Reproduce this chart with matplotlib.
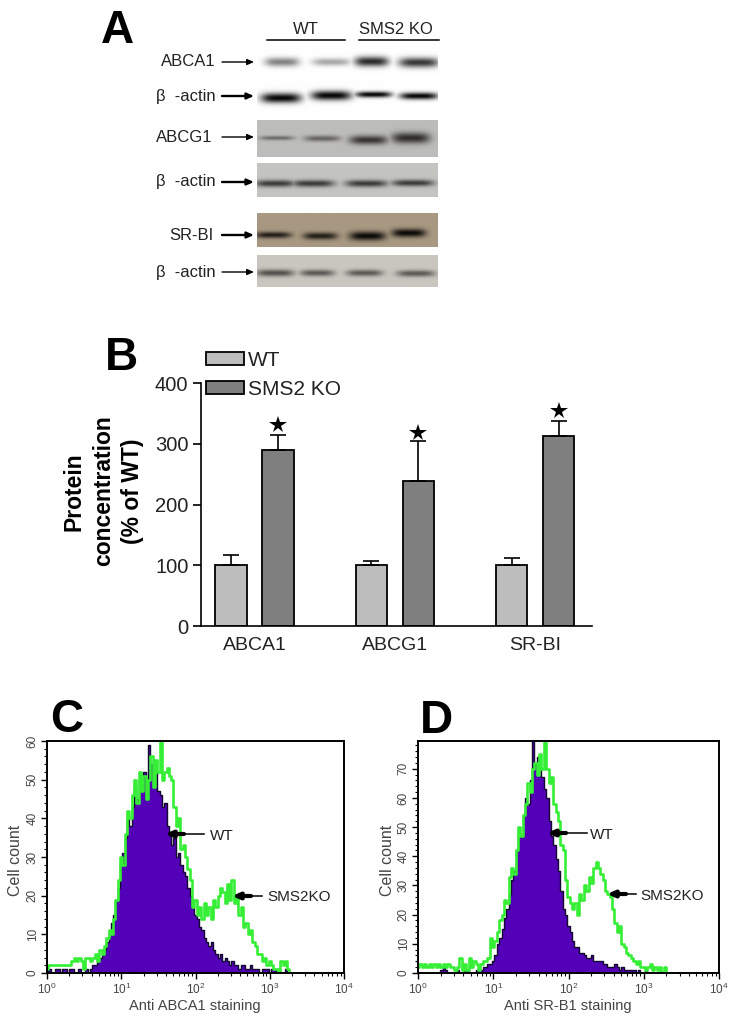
import numpy as np
import matplotlib
matplotlib.use('Agg')
import matplotlib.pyplot as plt
from matplotlib.patches import Patch
from matplotlib.ticker import MultipleLocator, LogLocator, NullFormatter

plt.rcParams['font.family'] = ['Liberation Sans', 'DejaVu Sans']
plt.rcParams['mathtext.default'] = 'regular'

W, H = 737, 1026

# Panel B values
targets = ['ABCA1', 'ABCG1', 'SR-BI']
wt_mean = [100, 100, 100]
wt_err = [17, 7, 12]
ko_mean = [290, 239, 313]
ko_err = [25, 66, 24]
star_y = [331, 317, 354]

# Panel A band densities, one per lane
abca1_density = [0.5, 0.35, 0.85, 0.8]
actin1_density = [1.0, 1.0, 1.0, 1.0]
abcg1_density = [0.5, 0.55, 0.85, 0.9]
actin2_density = [0.8, 0.8, 0.8, 0.8]
srbi_density = [0.85, 0.85, 1.0, 1.0]
actin3_density = [0.7, 0.65, 0.65, 0.65]

# Panel C histograms, 32 channels per decade
c_wt = [0, 1, 0, 0, 1, 1, 0, 1, 1, 0, 1, 1, 0, 0, 1, 0,
        0, 1, 0, 1, 2, 2, 3, 4, 5, 6, 8, 10, 13, 15, 19, 22,
        28, 31, 35, 40, 38, 43, 48, 45, 50, 47, 52, 46, 59, 54, 50, 52,
        47, 46, 43, 44, 38, 36, 33, 35, 30, 31, 28, 26, 25, 22, 20, 17,
        15, 14, 12, 11, 9, 8, 7, 8, 6, 5, 4, 5, 3, 4, 3, 2,
        3, 2, 2, 1, 2, 2, 1, 1, 2, 1, 1, 1, 0, 1, 1, 1,
        0, 1, 1, 0, 1, 0, 0, 1, 0, 0, 0, 0, 0, 0, 0, 0,
        0, 0, 0, 0, 0, 0, 0, 0, 0, 0, 0, 0, 0, 0, 0, 0]
c_ko = [1, 2, 2, 2, 2, 2, 2, 2, 2, 2, 2, 3, 4, 3, 4, 3,
        1, 4, 4, 3, 4, 5, 3, 6, 5, 7, 9, 11, 10, 14, 19, 24,
        30, 28, 36, 42, 40, 46, 50, 44, 52, 47, 51, 45, 50, 56, 48, 55,
        52, 60, 50, 52, 53, 51, 50, 43, 38, 40, 32, 33, 30, 27, 24, 17,
        19, 15, 17, 14, 18, 15, 17, 14, 19, 17, 20, 22, 21, 18, 23, 19,
        24, 18, 20, 15, 17, 12, 13, 10, 11, 8, 7, 5, 5, 3, 4, 2,
        3, 2, 1, 1, 0, 3, 2, 3, 1, 0, 0, 0, 0, 0, 0, 0,
        0, 0, 0, 0, 0, 0, 0, 0, 0, 0, 0, 0, 0, 0, 0, 0]

# Panel D histograms
d_wt = [0, 0, 0, 0, 0, 0, 0, 0, 0, 0, 1, 2, 1, 0, 0, 0,
        0, 1, 0, 0, 1, 1, 0, 0, 0, 1, 1, 1, 2, 2, 3, 3,
        4, 6, 10, 12, 15, 19, 22, 27, 32, 35, 42, 48, 47, 54, 60, 58,
        66, 80, 72, 74, 70, 67, 63, 60, 52, 47, 44, 39, 35, 28, 22, 20,
        16, 14, 11, 9, 9, 7, 7, 6, 5, 5, 6, 4, 4, 4, 4, 3,
        3, 2, 2, 2, 3, 2, 1, 2, 1, 1, 1, 1, 1, 0, 1, 0,
        0, 1, 0, 0, 0, 0, 0, 0, 0, 0, 0, 0, 0, 0, 0, 0,
        0, 0, 0, 0, 0, 0, 0, 0, 0, 0, 0, 0, 0, 0, 0, 0]
d_ko = [2, 3, 2, 3, 2, 3, 2, 3, 2, 3, 2, 3, 2, 3, 2, 2,
        1, 2, 5, 1, 3, 1, 5, 2, 4, 3, 1, 3, 4, 4, 5, 12,
        9, 11, 14, 18, 20, 25, 24, 33, 36, 34, 42, 50, 47, 54, 58, 65,
        62, 70, 72, 68, 75, 70, 79, 70, 65, 67, 58, 55, 52, 44, 42, 32,
        26, 24, 22, 24, 20, 27, 25, 30, 28, 33, 31, 36, 38, 36, 34, 32,
        28, 27, 26, 22, 17, 14, 16, 10, 9, 7, 6, 5, 4, 3, 4, 2,
        2, 1, 2, 3, 1, 2, 1, 2, 0, 2, 0, 0, 0, 0, 0, 0,
        0, 0, 0, 0, 0, 0, 0, 0, 0, 0, 0, 0, 0, 0, 0, 0]

fig = plt.figure(figsize=(W/100, H/100), dpi=100)


def box(x0, y0, x1, y1):
    # axes from pixel corners, y measured from the top
    return fig.add_axes([x0/W, 1-y1/H, (x1-x0)/W, (y1-y0)/H])


def label(x, y, s, **kw):
    kw.setdefault('color', '#222222')
    kw.setdefault('va', 'center')
    return fig.text(x/W, 1-y/H, s, **kw)


def arrow(x0, x1, y, lw=1.0, head=4):
    # points from x0 to x1
    fig.add_artist(matplotlib.patches.FancyArrowPatch(
        (x0/W, 1-y/H), (x1/W, 1-y/H), transform=fig.transFigure,
        arrowstyle='-|>,head_length=0.5,head_width=0.22', mutation_scale=head*2,
        lw=lw, color='k', shrinkA=0, shrinkB=0))


def blot(x0, y0, x1, y1, bg, dark, density, lanes, rows, half_w, sig):
    ax = box(x0, y0, x1, y1)
    xx, yy = np.meshgrid(np.arange(x0, x1)+0.5, np.arange(y0, y1)+0.5)
    d = np.zeros_like(xx)
    for i in range(4):
        shape = np.exp(-np.abs((xx-lanes[i])/half_w[i])**4)*np.exp(-((yy-rows[i])/sig[i])**2)
        d = np.maximum(d, density[i]*shape)
    d = d[..., None]
    img = np.array(bg)*(1-d)+np.array(dark)*d
    ax.imshow(img, aspect='auto', interpolation='bilinear', extent=(x0, x1, y1, y0))
    ax.axis('off')


# Panel A
white = (1.0, 1.0, 1.0)
black = (0.03, 0.03, 0.03)
blot(257, 48, 437, 76, white, black, abca1_density, [282, 331, 371, 418],
     [62, 62, 61.5, 62.5], [17, 19, 17, 20], [4.5, 3.8, 5, 5])
blot(257, 80, 437, 112, white, black, actin1_density, [281, 331, 373, 418],
     [98, 95.5, 94.5, 96], [20, 20, 18, 19], [5, 4.8, 3, 3.5])
blot(257, 120, 437, 157, (0.74, 0.74, 0.73), (0.13, 0.12, 0.11), abcg1_density,
     [277, 322, 368, 410], [138, 138.5, 140, 138], [17, 18, 19, 19], [2.2, 3, 4.5, 5.5])
blot(257, 163, 437, 197, (0.77, 0.77, 0.76), (0.1, 0.1, 0.1), actin2_density,
     [275, 313, 366, 412], [183.5, 183.5, 183.5, 183], [20, 21, 21, 21], [3.5, 3.5, 3.5, 3.3])
blot(257, 213, 437, 247, (0.66, 0.6, 0.51), (0.05, 0.04, 0.03), srbi_density,
     [273, 320, 367, 408], [235, 236, 236, 233], [18, 17, 18, 17], [3.2, 3.6, 4.5, 4.2])
blot(257, 255, 437, 287, (0.79, 0.78, 0.75), (0.12, 0.12, 0.11), actin3_density,
     [275, 317, 364, 415], [273, 273, 273, 273.5], [19, 17, 18, 19], [3.5, 3.3, 3.3, 3.3])

label(101, 43, 'A', fontsize=33, fontweight='bold', color='k', va='baseline')
label(306, 30, 'WT', fontsize=12, ha='center')
label(396, 30, 'SMS2 KO', fontsize=12, ha='center')
fig.add_artist(plt.Line2D([267/W, 345/W], [1-39.5/H]*2, color='k', lw=1.1))
fig.add_artist(plt.Line2D([359/W, 439/W], [1-39.5/H]*2, color='k', lw=1.1))

blot_labels = ['ABCA1', '\u03b2  -actin', 'ABCG1', '\u03b2  -actin', 'SR-BI', '\u03b2  -actin']
label_right = [216, 216, 212, 216, 214, 216]
label_y = [62, 96, 137, 182, 235, 272]
arrow_w = [1.0, 1.7, 1.0, 1.7, 1.7, 1.0]
for s, xr, y, lw in zip(blot_labels, label_right, label_y, arrow_w):
    label(xr, y, s, fontsize=12, ha='right')
    arrow(222, 254, y, lw=lw)

# Panel B
ax = box(201, 383, 592, 626)
pos = np.arange(3)
bw = 31.5/140.25
off = 23.5/140.25
ekw = dict(ecolor='k', elinewidth=1.2, capsize=5.5, capthick=1.2)
b1 = ax.bar(pos-off, wt_mean, bw, color='#bdbdbd', edgecolor='k', lw=1.3,
            yerr=[[0]*3, wt_err], error_kw=ekw, label='WT')
b2 = ax.bar(pos+off, ko_mean, bw, color='#7f7f7f', edgecolor='k', lw=1.3,
            yerr=[[0]*3, ko_err], error_kw=ekw, label='SMS2 KO')
ax.plot(pos+off, star_y, '*', color='k', ms=13, mew=0)
ax.set_xlim((201-254.5)/140.25, (592-254.5)/140.25)
ax.set_ylim(0, 400)
ax.set_yticks([0, 100, 200, 300, 400])
ax.set_xticks(pos)
ax.set_xticklabels(targets)
ax.tick_params(axis='x', length=0, labelsize=14, pad=8, labelcolor='#222222')
ax.tick_params(axis='y', length=6, width=1.2, labelsize=14.5, pad=3, labelcolor='#222222')
for s in ['top', 'right']:
    ax.spines[s].set_visible(False)
for s in ['left', 'bottom']:
    ax.spines[s].set_linewidth(1.2)
handles = [Patch(facecolor='#bdbdbd', edgecolor='k', lw=1.3),
           Patch(facecolor='#7f7f7f', edgecolor='k', lw=1.3)]
fig.legend(handles, ['WT', 'SMS2 KO'], loc='upper left',
           bbox_to_anchor=(206/W, 1-351/H), frameon=False, fontsize=15,
           handlelength=1.8, handleheight=0.58, handletextpad=0.22,
           labelspacing=0.48, borderpad=0, borderaxespad=0, labelcolor='#222222')
label(105, 370, 'B', fontsize=33, fontweight='bold', color='k', va='baseline')
label(74, 492, 'Protein', fontsize=16.5, fontweight='bold', color='k', rotation=90, ha='center', va='center')
label(104, 491, 'concentration', fontsize=16.5, fontweight='bold', color='k', rotation=90, ha='center', va='center')
label(133, 491, '(% of WT)', fontsize=16.5, fontweight='bold', color='k', rotation=90, ha='center', va='center')


def hist(x0, x1, wt, ko, ymax, ymajor):
    ax = box(x0, 741, x1, 973)
    ch = 10**(np.arange(len(wt))*4/len(wt))
    ax.fill_between(ch, wt, 0, step='mid', color='#5300b8', lw=0)
    ax.step(ch, wt, where='mid', color='#140a30', lw=1.0)
    ax.step(ch, ko, where='mid', color='#35ee35', lw=1.9)
    ax.set_xscale('log')
    ax.set_xlim(1, 1e4)
    ax.set_ylim(0, ymax)
    ax.yaxis.set_major_locator(MultipleLocator(ymajor))
    ax.yaxis.set_minor_locator(MultipleLocator(2))
    ax.xaxis.set_major_locator(LogLocator(base=10, numticks=5))
    ax.xaxis.set_minor_locator(LogLocator(base=10, subs=np.arange(2, 10), numticks=5))
    ax.xaxis.set_minor_formatter(NullFormatter())
    ax.tick_params(axis='both', which='major', length=4, width=1.0, labelsize=8.5,
                   labelcolor='#444444', pad=2)
    ax.tick_params(axis='both', which='minor', length=2, width=0.8)
    plt.setp(ax.get_yticklabels(), rotation=90, va='center')
    for s in ax.spines.values():
        s.set_linewidth(1.4)
    return ax


# Panel C
hist(47, 344, c_wt, c_ko, 60, 10)
label(50, 732, 'C', fontsize=33, fontweight='bold', color='k', va='baseline')
label(15, 860, 'Cell count', fontsize=11.5, color='#444444', rotation=90, ha='center')
label(195, 1006, 'Anti ABCA1 staining', fontsize=10.5, color='#444444', ha='center')
label(210, 836, 'WT', fontsize=11)
label(267, 897, 'SMS2KO', fontsize=11)
arrow(184, 165, 834, lw=3, head=4)
fig.add_artist(plt.Line2D([185/W, 204/W], [1-834/H]*2, color='k', lw=1.1))
arrow(251, 232, 896, lw=3, head=4)
fig.add_artist(plt.Line2D([253/W, 262/W], [1-896/H]*2, color='k', lw=1.1))

# Panel D
hist(418, 719, d_wt, d_ko, 79.5, 10)
label(420, 733, 'D', fontsize=33, fontweight='bold', color='k', va='baseline')
label(387, 860, 'Cell count', fontsize=11.5, color='#444444', rotation=90, ha='center')
label(568, 1006, 'Anti SR-B1 staining', fontsize=10.5, color='#444444', ha='center')
label(590, 835, 'WT', fontsize=11)
label(640, 896, 'SMS2KO', fontsize=11)
arrow(566, 547, 833, lw=3, head=4)
fig.add_artist(plt.Line2D([568/W, 587/W], [1-833/H]*2, color='k', lw=1.1))
arrow(626, 607, 894, lw=3, head=4)
fig.add_artist(plt.Line2D([627/W, 636/W], [1-894/H]*2, color='k', lw=1.1))

fig.savefig('out.png', dpi=100)
